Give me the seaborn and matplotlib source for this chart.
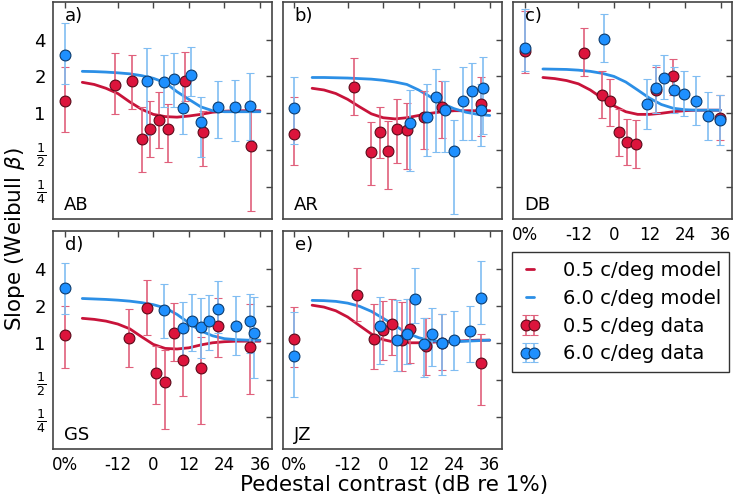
import matplotlib
matplotlib.use("Agg")
import matplotlib.pyplot as plt
import matplotlib.ticker as mticker
import numpy as np
import pandas as pd
import seaborn as sns

# pedestal contrast (dB re 1%); '0%' = no pedestal condition
# each data point: (pedestal, slope, lower error, upper error)
AB_05 = [('0%', 1.25, 0.71, 2.37), (-13.1, 1.71, 0.98, 3.1), (-7.2, 1.84, 1.09, 2.99),
         (-3.9, 0.62, 0.33, 1.12), (-1.0, 0.75, 0.44, 1.26), (1.8, 0.88, 0.52, 1.48),
         (4.8, 0.75, 0.40, 1.19), (10.7, 1.85, 1.27, 3.18), (16.7, 0.70, 0.37, 1.05),
         (32.9, 0.54, 0.16, 1.09)]
AB_60 = [('0%', 2.98, 1.73, 5.5), (-2.3, 1.84, 0.66, 3.4), (3.7, 1.81, 1.13, 2.99),
         (6.9, 1.89, 1.13, 3.1), (9.9, 1.11, 0.68, 1.84), (12.7, 2.05, 1.39, 3.5),
         (16.0, 0.85, 0.44, 1.37), (21.9, 1.12, 0.63, 1.84), (27.6, 1.12, 0.59, 1.88),
         (32.7, 1.15, 0.60, 2.13)]
AR_05 = [('0%', 0.68, 0.38, 1.35), (-10.0, 1.65, 0.96, 2.85), (-4.2, 0.48, 0.26, 0.85),
         (-1.1, 0.71, 0.43, 1.13), (1.8, 0.49, 0.24, 0.86), (4.8, 0.75, 0.39, 1.31),
         (7.9, 0.73, 0.35, 1.21), (13.8, 0.93, 0.51, 1.53), (20.0, 1.12, 0.63, 1.84),
         (32.9, 1.19, 0.65, 1.96)]
AR_60 = [('0%', 1.11, 0.56, 1.96), (9.0, 0.84, 0.34, 1.55), (14.7, 0.94, 0.45, 1.73),
         (18.0, 1.35, 0.48, 2.3), (20.9, 1.07, 0.48, 1.84), (23.9, 0.49, 0.15, 0.88),
         (27.0, 1.25, 0.60, 2.37), (29.9, 1.53, 0.61, 2.57), (32.9, 1.07, 0.54, 1.73),
         (33.7, 1.61, 0.68, 2.86)]
DB_05 = [('0%', 3.24, 2.12, 6.8), (-10.2, 3.1, 2.02, 4.95), (-4.1, 1.41, 0.92, 2.23),
         (-1.2, 1.27, 0.79, 1.9), (1.8, 0.71, 0.45, 1.09), (4.4, 0.58, 0.38, 0.9),
         (7.5, 0.56, 0.36, 0.88), (14.3, 1.55, 1.0, 2.4), (20.0, 2.0, 1.4, 2.8),
         (35.9, 0.92, 0.6, 1.4)]
DB_60 = [('0%', 3.38, 2.23, 7.1), (-3.2, 4.05, 2.6, 6.5), (11.3, 1.2, 0.75, 1.9),
         (14.3, 1.6, 1.0, 2.5), (17.0, 1.95, 1.3, 3.0), (20.4, 1.55, 1.0, 2.4),
         (23.8, 1.45, 0.95, 2.2), (27.8, 1.27, 0.8, 2.0), (31.8, 0.95, 0.6, 1.5),
         (35.9, 0.88, 0.55, 1.4)]
GS_05 = [('0%', 1.15, 0.62, 2.0), (-8.1, 1.1, 0.64, 1.88), (-2.2, 1.93, 1.15, 3.21),
         (0.9, 0.57, 0.32, 0.94), (3.8, 0.48, 0.2, 0.87), (6.9, 1.19, 0.71, 2.09),
         (9.9, 0.73, 0.37, 1.26), (16.0, 0.62, 0.22, 1.11), (21.9, 1.37, 0.76, 2.32),
         (32.7, 0.93, 0.38, 2.05)]
GS_60 = [('0%', 2.77, 1.7, 4.48), (3.7, 1.84, 1.1, 2.98), (9.9, 1.31, 0.75, 2.15),
         (12.9, 1.5, 0.85, 2.47), (16.0, 1.35, 0.75, 2.32), (18.9, 1.5, 0.87, 2.44),
         (21.9, 1.89, 1.21, 3.18), (27.9, 1.37, 0.8, 2.4), (32.7, 1.5, 0.83, 2.47),
         (34.0, 1.19, 0.52, 2.35)]
JZ_05 = [('0%', 1.07, 0.63, 1.96), (-9.0, 2.44, 1.5, 4.08), (-3.0, 1.07, 0.61, 2.05),
         (0.1, 1.26, 0.73, 2.18), (2.9, 1.43, 0.79, 2.25), (6.3, 1.06, 0.59, 2.15),
         (9.1, 1.3, 0.69, 2.25), (14.5, 0.95, 0.55, 1.6), (20.0, 1.0, 0.6, 1.7),
         (32.9, 0.69, 0.31, 1.17)]
JZ_60 = [('0%', 0.78, 0.36, 1.79), (-1.1, 1.38, 0.67, 2.35), (4.8, 1.06, 0.59, 2.21),
         (7.9, 1.18, 0.67, 2.25), (10.8, 2.28, 1.46, 4.08), (13.8, 0.97, 0.53, 1.6),
         (16.6, 1.17, 0.65, 1.9), (20.0, 1.0, 0.55, 1.7), (24.0, 1.05, 0.6, 1.8),
         (29.5, 1.24, 0.7, 2.0), (32.9, 2.32, 1.41, 4.6)]

# model curves every 4 dB
MODEL_DB = [-24, -20, -16, -12, -8, -4, 0, 4, 8, 12, 16, 20, 24, 28, 32, 36]
AB_05_MODEL = [1.79, 1.72, 1.6, 1.45, 1.24, 1.08, 0.98, 0.94, 0.93, 0.95, 0.98, 1.02, 1.04, 1.05, 1.05, 1.05]
AB_60_MODEL = [2.2, 2.19, 2.17, 2.14, 2.1, 2.03, 1.93, 1.78, 1.5, 1.3, 1.13, 1.05, 1.03, 1.03, 1.03, 1.03]
AR_05_MODEL = [1.6, 1.55, 1.45, 1.3, 1.13, 0.99, 0.92, 0.9, 0.92, 0.96, 1.0, 1.03, 1.05, 1.05, 1.05, 1.05]
AR_60_MODEL = [1.96, 1.96, 1.95, 1.94, 1.92, 1.9, 1.86, 1.8, 1.72, 1.55, 1.36, 1.2, 1.09, 1.02, 0.98, 0.96]
DB_05_MODEL = [1.96, 1.92, 1.85, 1.74, 1.55, 1.33, 1.15, 1.03, 0.98, 0.98, 1.0, 1.03, 1.05, 1.06, 1.06, 1.06]
DB_60_MODEL = [2.3, 2.29, 2.28, 2.25, 2.2, 2.12, 2.0, 1.8, 1.55, 1.33, 1.18, 1.1, 1.07, 1.06, 1.06, 1.06]
GS_05_MODEL = [1.58, 1.55, 1.5, 1.42, 1.3, 1.12, 0.97, 0.9, 0.89, 0.91, 0.96, 1.0, 1.02, 1.03, 1.03, 1.03]
GS_60_MODEL = [2.29, 2.27, 2.25, 2.22, 2.18, 2.12, 2.04, 1.92, 1.7, 1.45, 1.25, 1.14, 1.08, 1.06, 1.05, 1.05]
JZ_05_MODEL = [2.02, 1.95, 1.82, 1.62, 1.38, 1.18, 1.06, 1.01, 1.0, 1.0, 1.01, 1.02, 1.03, 1.04, 1.05, 1.05]
JZ_60_MODEL = [2.21, 2.2, 2.17, 2.1, 1.98, 1.8, 1.58, 1.38, 1.2, 1.1, 1.04, 1.02, 1.02, 1.03, 1.04, 1.05]

SUBJECTS = ['AB', 'AR', 'DB', 'GS', 'JZ']
LETTERS = ['a)', 'b)', 'c)', 'd)', 'e)']
DATA = {'AB': (AB_05, AB_60, AB_05_MODEL, AB_60_MODEL),
        'AR': (AR_05, AR_60, AR_05_MODEL, AR_60_MODEL),
        'DB': (DB_05, DB_60, DB_05_MODEL, DB_60_MODEL),
        'GS': (GS_05, GS_60, GS_05_MODEL, GS_60_MODEL),
        'JZ': (JZ_05, JZ_60, JZ_05_MODEL, JZ_60_MODEL)}

NO_PED = -30  # where the 0% column sits on the dB axis
RED, RED_LINE, RED_ERR, RED_EDGE = '#DC143C', '#C8133A', '#E0607C', '#5A0A1A'
BLUE, BLUE_LINE, BLUE_ERR, BLUE_EDGE = '#1E90FF', '#2C8FE6', '#80BDF2', '#0C3C6E'

sns.set_style("white")
plt.rcParams['font.family'] = ['DejaVu Sans']
plt.rcParams['mathtext.fontset'] = 'dejavusans'
plt.rcParams['text.color'] = 'black'
plt.rcParams['xtick.color'] = 'black'
plt.rcParams['ytick.color'] = 'black'

fig = plt.figure(figsize=(7.35, 4.99), dpi=100)
W = 0.298
positions = [(0.0717, 0.561, W, 0.435), (0.3844, 0.561, W, 0.435), (0.6984, 0.561, W, 0.435),
             (0.0717, 0.1002, W, 0.4369), (0.3844, 0.1002, W, 0.4369)]


def to_frame(points):
    df = pd.DataFrame(points, columns=['ped', 'slope', 'lo', 'hi'])
    df['x'] = [NO_PED if p == '0%' else p for p in df['ped']]
    return df


handles = []
for i, subj in enumerate(SUBJECTS):
    ax = fig.add_axes(positions[i])
    d05, d60, m05, m60 = DATA[subj]
    ax.set_yscale('log')

    sns.lineplot(x=MODEL_DB, y=m05, ax=ax, color=RED_LINE, lw=2, zorder=2)
    l05 = ax.lines[-1]
    sns.lineplot(x=MODEL_DB, y=m60, ax=ax, color=BLUE_LINE, lw=2, zorder=2)
    l60 = ax.lines[-1]

    conts = []
    for pts, fc, ec, edge in [(d05, RED, RED_ERR, RED_EDGE), (d60, BLUE, BLUE_ERR, BLUE_EDGE)]:
        df = to_frame(pts)
        err = [df['slope'] - df['lo'], df['hi'] - df['slope']]
        c = ax.errorbar(df['x'], df['slope'], yerr=err, fmt='o', ms=7.8, mfc=fc, mec=edge,
                        mew=0.8, ecolor=ec, elinewidth=1.2, capsize=3, capthick=1.2, zorder=3)
        conts.append(c)
    if i == 0:
        handles = [l05, l60] + conts

    ax.set_xlim(-34, 40)
    ax.set_ylim(0.137, 8.1)
    ax.set_xticks([-30, -12, 0, 12, 24, 36])
    ax.yaxis.set_major_locator(mticker.FixedLocator([0.25, 0.5, 1, 2, 4]))
    ax.yaxis.set_minor_locator(mticker.NullLocator())
    ax.tick_params(which='both', direction='in', top=True, right=True, length=4,
                   width=1, color='#444444', labelsize=12, pad=5)
    ax.tick_params(axis='y', labelsize=13)
    if i in (2, 3, 4):
        ax.set_xticklabels(['0%', '-12', '0', '12', '24', '36'])
    else:
        ax.set_xticklabels([])
    if i in (0, 3):
        ax.set_yticklabels([r'$\frac{1}{4}$', r'$\frac{1}{2}$', '1', '2', '4'])
    else:
        ax.set_yticklabels([])
    for s in ax.spines.values():
        s.set_color('#444444')
        s.set_linewidth(1.2)
    ax.text(0.055, 0.935, LETTERS[i], transform=ax.transAxes, fontsize=13, va='center')
    ax.text(0.05, 0.065, subj, transform=ax.transAxes, fontsize=13, va='center')

leg = fig.legend(handles, ['0.5 c/deg model', '6.0 c/deg model', '0.5 c/deg data', '6.0 c/deg data'],
                 loc='upper left', bbox_to_anchor=(0.696, 0.2, 0.296, 0.294), mode='expand',
                 numpoints=2, handlelength=1.0, fontsize=14, frameon=True, fancybox=False,
                 edgecolor='black', borderaxespad=0, labelspacing=0.45, handletextpad=1.2,
                 borderpad=0.45)
leg.get_frame().set_linewidth(1.0)

fig.text(0.536, 0.028, 'Pedestal contrast (dB re 1%)', ha='center', va='center', fontsize=15.5)
fig.text(0.021, 0.52, r'Slope (Weibull $\beta$)', ha='center', va='center', rotation=90, fontsize=15.5)

fig.savefig('out.png', dpi=100)
